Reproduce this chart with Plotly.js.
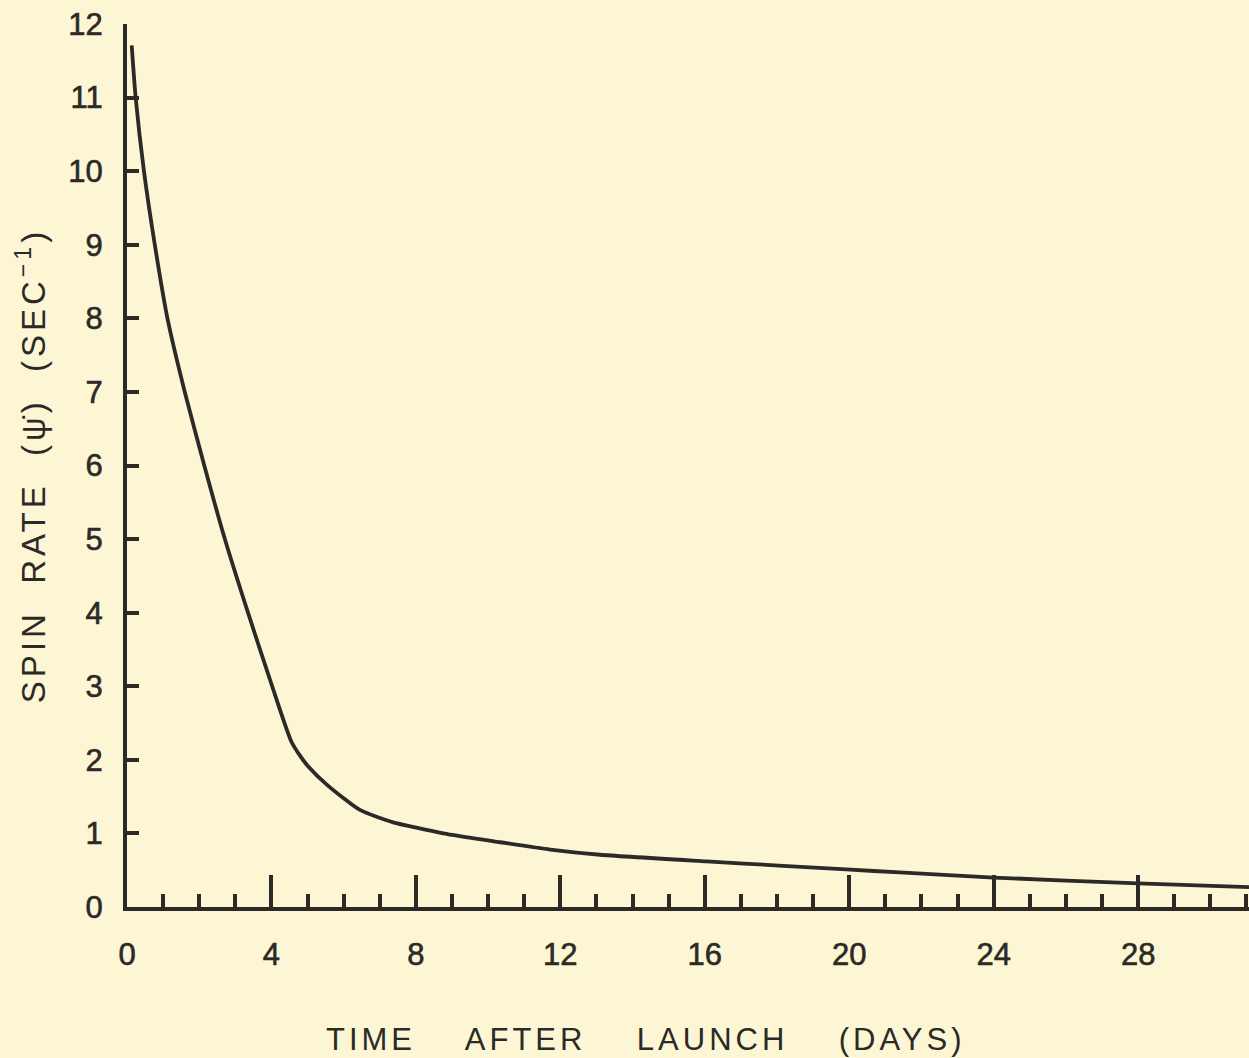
<!DOCTYPE html>
<html>
<head>
<meta charset="utf-8">
<script src="https://cdn.plot.ly/plotly-3.0.1.min.js"></script>
<style>
  html, body { margin: 0; padding: 0; background: #fdf6d5; }
  #chart { width: 1249px; height: 1058px; }
  .ytitle { letter-spacing: 4px; }
  .annotation-text { letter-spacing: 4px; }
  .xtick text, .ytick text { stroke: #2b2a26; stroke-width: 0.6px; }
</style>
</head>
<body>
<div id="chart"></div>
<script>
// Time after launch (days) and spin rate (sec^-1)
const timeDays = [0.13, 0.24, 0.47, 0.77, 1.12, 1.60, 2.14, 2.71, 3.35, 4.02, 4.55, 4.80, 5.00, 5.54, 6.45, 7.37, 8.10, 9.00, 10.33, 11.72, 13.10, 16.04, 18.17, 19.92, 21.40, 24.00, 28.00, 31.07];
const spinRate = [11.71, 11.0, 10.0, 9.0, 8.0, 7.0, 6.0, 5.0, 4.0, 3.0, 2.25, 2.05, 1.92, 1.66, 1.32, 1.15, 1.07, 0.98, 0.88, 0.78, 0.71, 0.62, 0.56, 0.51, 0.47, 0.40, 0.32, 0.27];

const xTickVals = [0, 4, 8, 12, 16, 20, 24, 28];
const xTickText = ["0", "4", "8", "12", "16", "20", "24", "28"];
const yTickVals = [0, 1, 2, 3, 4, 5, 6, 7, 8, 9, 10, 11, 12];
const yTickText = ["0", "1", "2", "3", "4", "5", "6", "7", "8", "9", "10", "11", "12"];
const xTitle = "TIME    AFTER    LAUNCH    (DAYS)";
const yTitle = "\u00A0\u00A0SPIN  RATE  (\u03C8\u0307)  (SEC<sup>\u22121</sup>)";

const ink = "#2b2a26";
const paper = "#fdf6d5";
const fam = "Liberation Sans, Arial, sans-serif";

const trace = {
  x: timeDays,
  y: spinRate,
  type: "scatter",
  mode: "lines",
  line: { color: ink, width: 3.8, shape: "spline", smoothing: 0.6 },
  hoverinfo: "x+y",
  showlegend: false
};

const layout = {
  width: 1249,
  height: 1058,
  paper_bgcolor: paper,
  plot_bgcolor: paper,
  margin: { l: 127, r: 0, t: 24, b: 151 },
  font: { family: fam, color: ink },
  xaxis: {
    range: [0, 31.07],
    tickmode: "array",
    tickvals: xTickVals,
    ticktext: xTickText,
    ticks: "inside",
    ticklen: 32,
    tickwidth: 4,
    tickcolor: ink,
    minor: { dtick: 1, ticks: "inside", ticklen: 13, tickwidth: 3.5, tickcolor: ink, showgrid: false },
    showline: true,
    linewidth: 4,
    linecolor: ink,
    showgrid: false,
    zeroline: false,
    ticklabelstandoff: 17,
    tickfont: { size: 31, color: ink, family: fam },
    fixedrange: true
  },
  yaxis: {
    range: [0, 12],
    tickmode: "array",
    tickvals: yTickVals,
    ticktext: yTickText,
    ticks: "inside",
    ticklen: 12,
    tickwidth: 3.5,
    tickcolor: ink,
    showline: true,
    linewidth: 4,
    linecolor: ink,
    showgrid: false,
    zeroline: false,
    ticklabelstandoff: 14,
    tickfont: { size: 31, color: ink, family: fam },
    title: {
      text: yTitle,
      font: { size: 33, color: ink, family: fam },
      standoff: 14
    },
    fixedrange: true
  },
  annotations: [{
    text: xTitle,
    xref: "paper", yref: "paper",
    x: 0.4626, y: -0.1495,
    xanchor: "center", yanchor: "middle",
    showarrow: false,
    font: { size: 31, color: ink, family: fam }
  }]
};

Plotly.newPlot("chart", [trace], layout, { displayModeBar: false });
</script>
</body>
</html>
